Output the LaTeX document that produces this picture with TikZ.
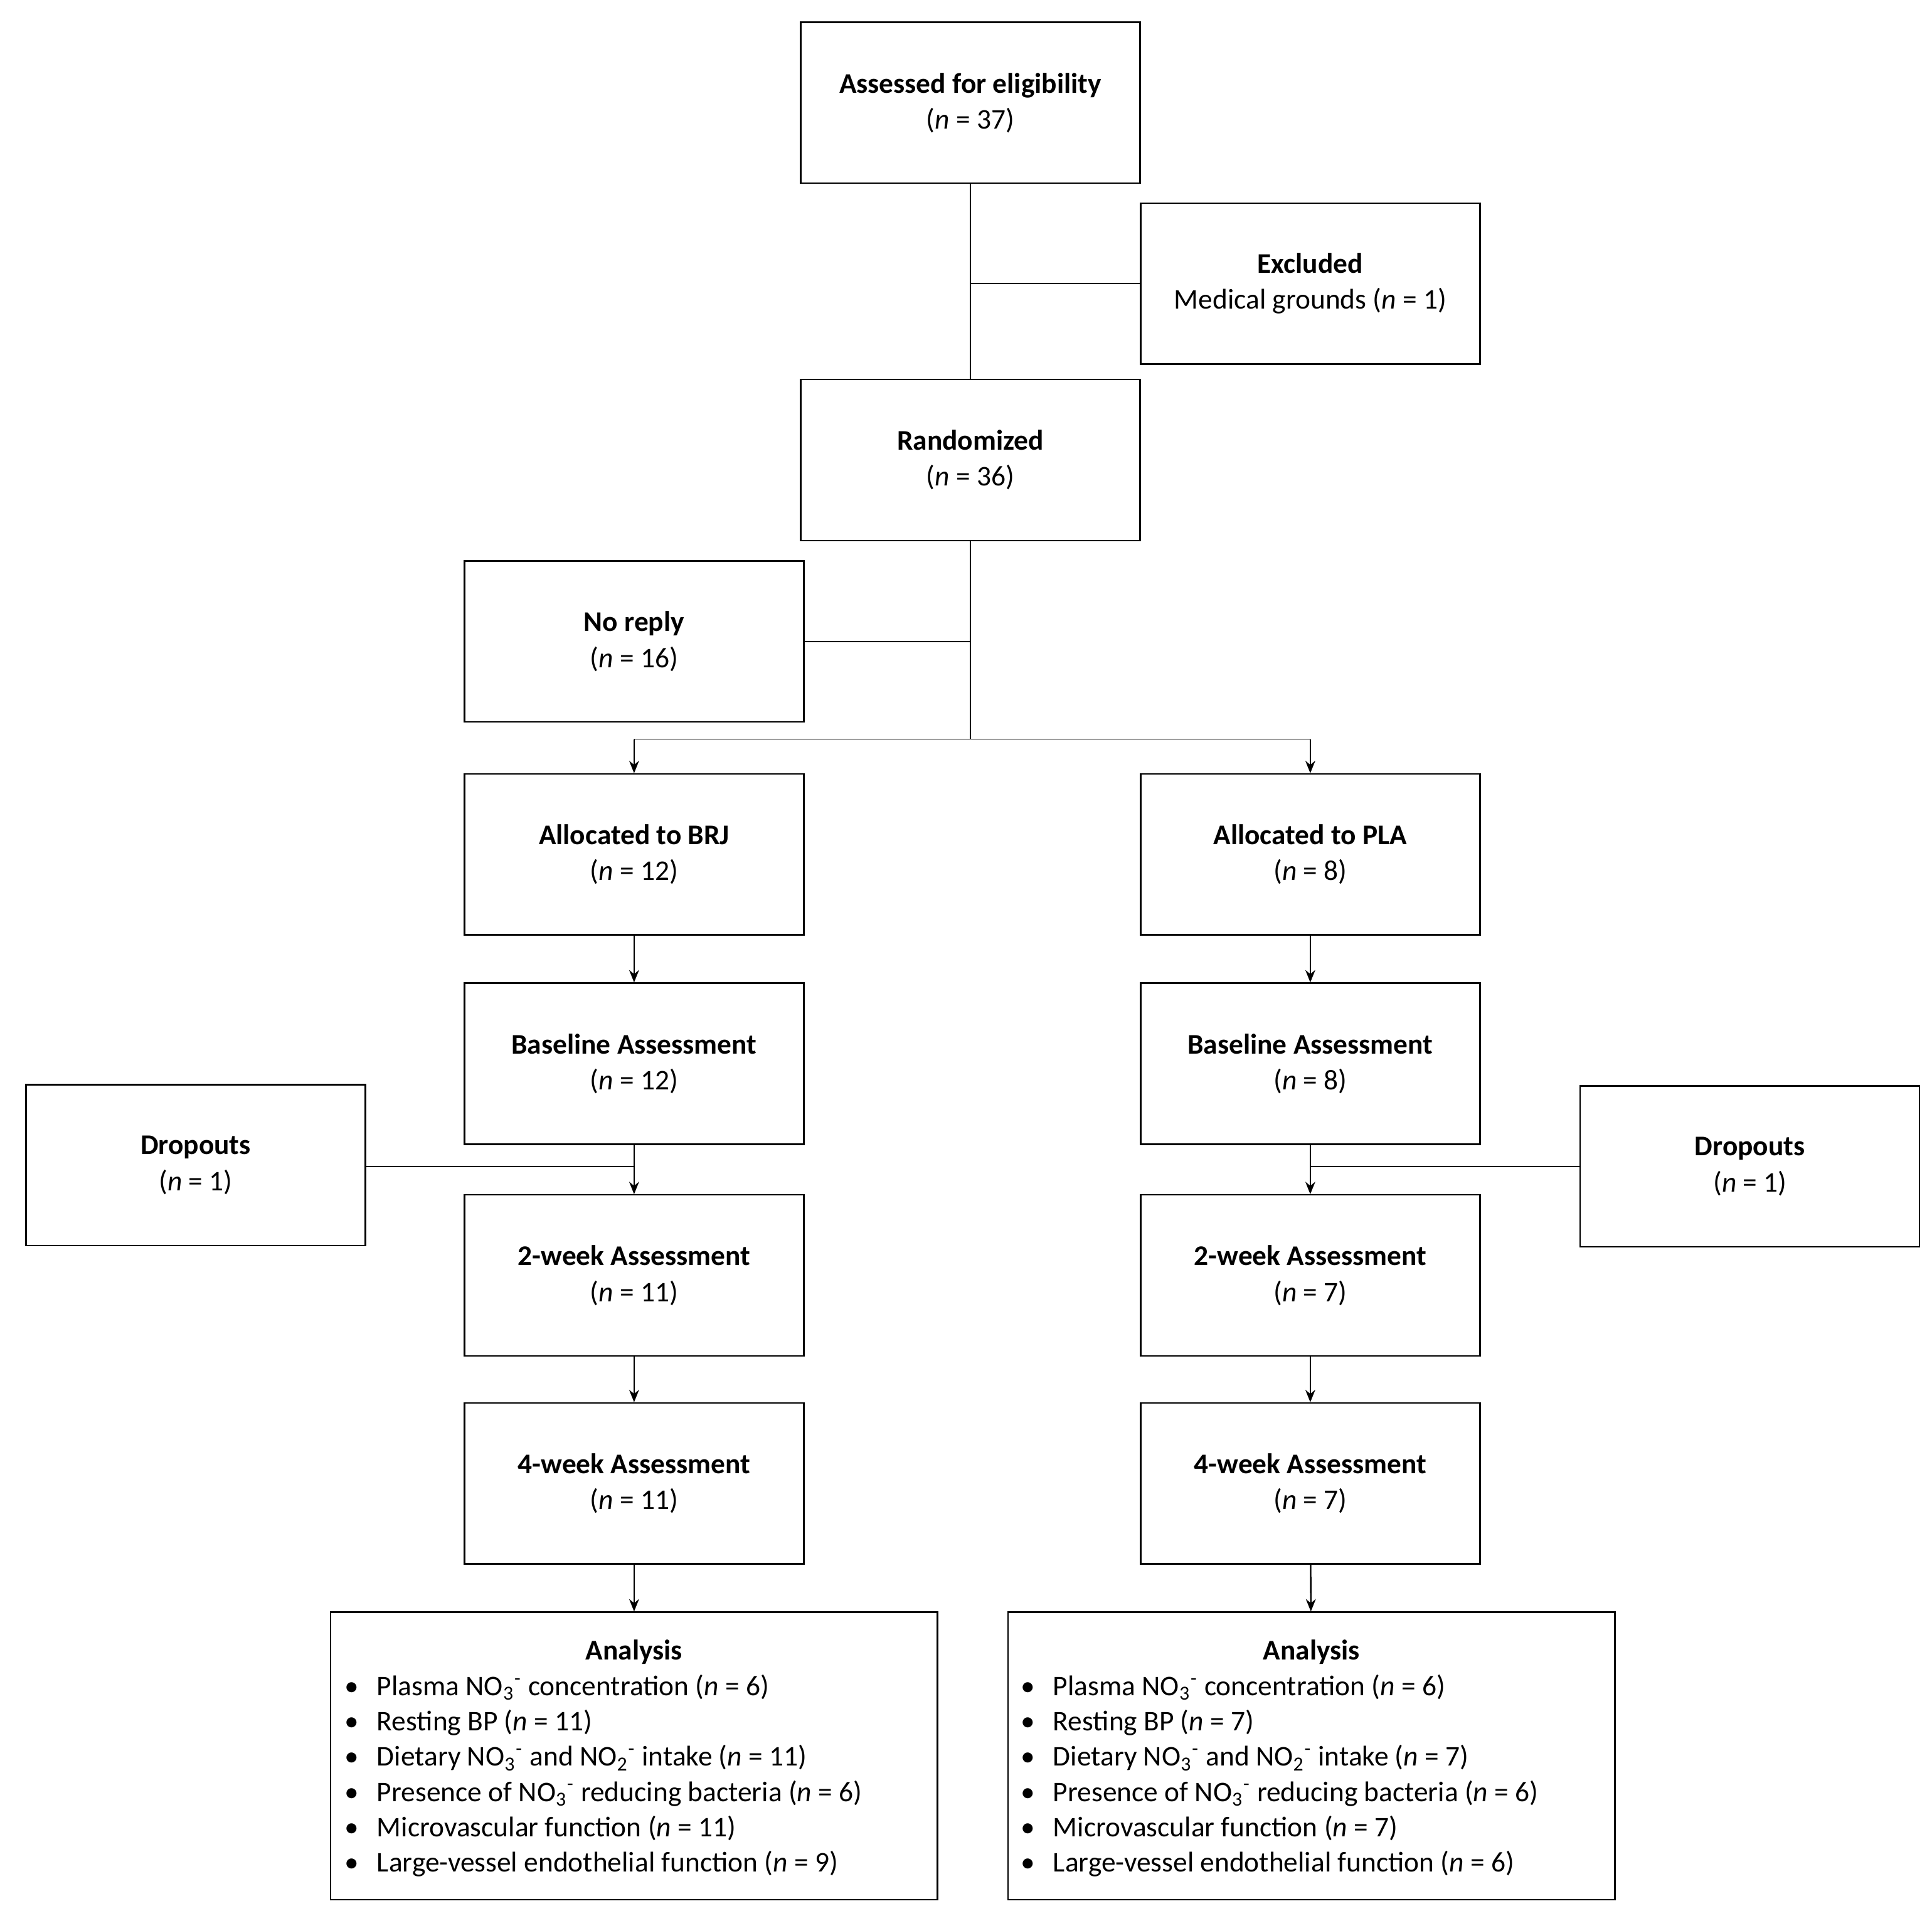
\documentclass[tikz,border=0pt]{standalone}
\usepackage{fontspec}
\setmainfont{Carlito}
\usetikzlibrary{arrows.meta}
\newcommand{\nn}[1]{(\textit{n} = #1)}
\newcommand{\nothree}{NO\textsubscript{3}\textsuperscript{-}}
\newcommand{\notwo}{NO\textsubscript{2}\textsuperscript{-}}
\newcommand{\bul}[1]{\makebox[13pt][l]{\textbullet}#1\\}
\begin{document}
\begin{tikzpicture}[x=0.5pt,y=-0.5pt,
  box/.style={draw,line width=0.6pt,minimum width=137pt,minimum height=65pt,align=center,inner sep=0pt,font=\fontsize{11.5}{14.5}\selectfont},
  big/.style={draw,line width=0.6pt,minimum width=245pt,minimum height=116pt,inner sep=0pt},
  ln/.style={line width=0.4pt},
  ar/.style={line width=0.6pt,-{Stealth[length=5pt,width=4pt]}}]
\useasboundingbox (0,0) rectangle (1560,1547);
\node[box] (ass) at (783.5,83) {\textbf{Assessed for eligibility}\\\nn{37}};
\node[box] (exc) at (1058,229) {\textbf{Excluded}\\Medical grounds \nn{1}};
\node[box] (ran) at (783.5,371.5) {\textbf{Randomized}\\\nn{36}};
\node[box] (nor) at (512,518) {\textbf{No reply}\\\nn{16}};
\node[box] (al1) at (512,690) {\textbf{Allocated to BRJ}\\\nn{12}};
\node[box] (al2) at (1058,690) {\textbf{Allocated to PLA}\\\nn{8}};
\node[box] (ba1) at (512,859) {\textbf{Baseline Assessment}\\\nn{12}};
\node[box] (ba2) at (1058,859) {\textbf{Baseline Assessment}\\\nn{8}};
\node[box] (dr1) at (158,941) {\textbf{Dropouts}\\\nn{1}};
\node[box] (dr2) at (1413,942) {\textbf{Dropouts}\\\nn{1}};
\node[box] (tw1) at (512,1030) {\textbf{2-week Assessment}\\\nn{11}};
\node[box] (tw2) at (1058,1030) {\textbf{2-week Assessment}\\\nn{7}};
\node[box] (fw1) at (512,1198) {\textbf{4-week Assessment}\\\nn{11}};
\node[box] (fw2) at (1058,1198) {\textbf{4-week Assessment}\\\nn{7}};
\node[big] (an1) at (512,1418) {};
\node[big] (an2) at (1059,1418) {};
\node[font=\fontsize{11.5}{14.25}\selectfont\bfseries] (t1) at (512,1334) {Analysis};
\node[font=\fontsize{11.5}{14.25}\selectfont\bfseries] (t2) at (1059,1334) {Analysis};
\node[anchor=north west,align=left,inner sep=0pt,font=\fontsize{11.5}{14.25}\selectfont] (l1) at (278,1352) {%
\bul{Plasma \nothree{} concentration \nn{6}}\bul{Resting BP \nn{11}}\bul{Dietary \nothree{} and \notwo{} intake \nn{11}}\bul{Presence of \nothree{} reducing bacteria \nn{6}}\bul{Microvascular function \nn{11}}\bul{Large-vessel endothelial function \nn{9}}};
\node[anchor=north west,align=left,inner sep=0pt,font=\fontsize{11.5}{14.25}\selectfont] (l2) at (824,1352) {%
\bul{Plasma \nothree{} concentration \nn{6}}\bul{Resting BP \nn{7}}\bul{Dietary \nothree{} and \notwo{} intake \nn{7}}\bul{Presence of \nothree{} reducing bacteria \nn{6}}\bul{Microvascular function \nn{7}}\bul{Large-vessel endothelial function \nn{6}}};
\coordinate (j1) at (783.5,229);
\coordinate (j2) at (783.5,518);
\coordinate (j3) at (783.5,597);
\coordinate (s1) at (512,597);
\coordinate (s2) at (1058,597);
\coordinate (d1) at (512,942);
\coordinate (d2) at (1058,942);
\draw[ln] (ass) -- (ran);
\draw[ln] (exc.west) -- (j1);
\draw[ln] (ran.south) -- (j3);
\draw[ln] (nor.east) -- (j2);
\draw[ln] (s1) -- (s2);
\draw[ar] (s1) -- (al1);
\draw[ar] (s2) -- (al2);
\draw[ar] (al1) -- (ba1);
\draw[ar] (al2) -- (ba2);
\draw[ar] (ba1) -- (tw1);
\draw[ar] (ba2) -- (tw2);
\draw[ln] (dr1.east |- d1) -- (d1);
\draw[ln] (dr2.west |- d2) -- (d2);
\draw[ar] (tw1) -- (fw1);
\draw[ar] (tw2) -- (fw2);
\draw[ar] (fw1) -- (an1);
\draw[ar] (fw2) -- (an2);
\end{tikzpicture}
\end{document}
